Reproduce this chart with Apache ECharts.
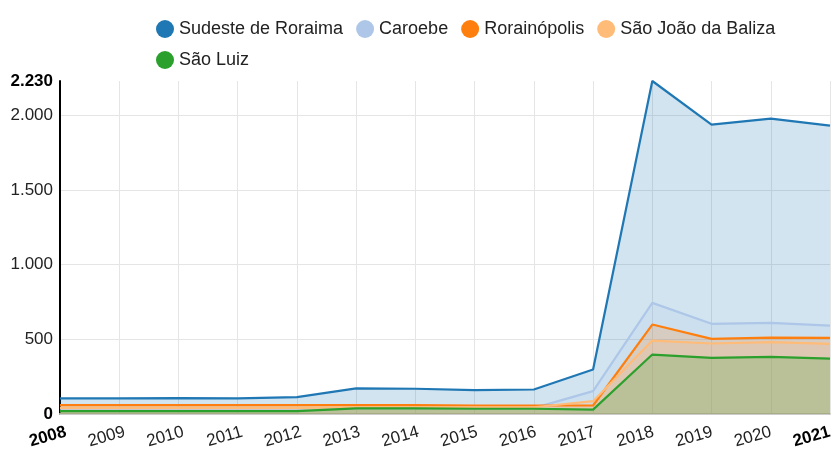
<!DOCTYPE html>
<html>
<head>
<meta charset="utf-8">
<script src="https://cdn.jsdelivr.net/npm/echarts@6/dist/echarts.min.js"></script>
<style>html,body{margin:0;padding:0;background:#fff}#c{width:835px;height:451px}</style>
</head>
<body>
<div id="c"></div>
<script>
const years = ['2008','2009','2010','2011','2012','2013','2014','2015','2016','2017','2018','2019','2020','2021'];
const sudeste = [104,104,106,105,113,172,169,160,164,298,2230,1938,1978,1931];
const caroebe = [38,38,38,38,38,40,40,40,39,153,744,604,610,592];
const rorainopolis = [59,59,59,59,59,60,59,57,57,57,599,503,512,510];
const saoJoao = [41,41,41,41,41,45,45,45,45,86,492,472,481,470];
const saoLuiz = [19,19,19,19,19,38,37,35,35,29,398,376,383,371];
const seriesNames = ['Sudeste de Roraima','Caroebe','Rorainópolis','São João da Baliza','São Luiz'];
const colors = ['#1f77b4','#aec7e8','#ff7f0e','#ffbb78','#2ca02c'];
const yMax = 2230;
const yGridMax = 2000;

const font = '"Liberation Sans", Arial, sans-serif';
function fmt(v){ return String(Math.round(v)).replace(/\B(?=(\d{3})+(?!\d))/g,'.'); }

const allData = [sudeste, caroebe, rorainopolis, saoJoao, saoLuiz];
const G = {left:60, right:5, top:81, bottom:37};
const plotH = 451 - G.top - G.bottom;
const gridTop2 = G.top + plotH * (yMax - yGridMax) / yMax;

const chart = echarts.init(document.getElementById('c'), null, {renderer:'canvas'});
chart.setOption({
  animation:false,
  color: colors,
  textStyle:{fontFamily:font},
  legend:{
    left:151, top:15, width:680,
    icon:'circle', itemWidth:18, itemHeight:18, itemGap:13,
    textStyle:{fontSize:18, color:'#222', fontFamily:font, padding:[0,9,0,0]},
    data: seriesNames
  },
  grid:[
    {left:G.left, right:G.right, top:G.top, bottom:G.bottom},
    {left:G.left+6, right:G.right-6, top:G.top, bottom:G.bottom},
    {left:G.left, right:G.right, top:gridTop2, bottom:G.bottom, z:0}
  ],
  xAxis:[
    {
      gridIndex:0, type:'category', boundaryGap:false, data:years,
      axisLine:{show:true, lineStyle:{color:'#ccc', width:2}},
      axisTick:{show:false},
      splitLine:{show:true, lineStyle:{color:'#e5e5e5', width:1}},
      axisLabel:{show:false}
    },
    {
      gridIndex:1, type:'category', boundaryGap:false, data:years,
      axisLine:{show:false}, axisTick:{show:false}, splitLine:{show:false},
      axisLabel:{
        rotate:16, fontSize:17, color:'#222', margin:18, interval:0,
        formatter:function(v,i){ return (i===0||i===years.length-1) ? '{b|'+v+'}' : v; },
        rich:{b:{fontWeight:'bold', fontSize:17, color:'#000'}}
      }
    },
    {gridIndex:2, type:'category', boundaryGap:false, data:years, show:false}
  ],
  yAxis:[
    {
      gridIndex:0, type:'value', min:0, max:yMax, interval:500,
      axisLine:{show:true, lineStyle:{color:'#000', width:2}},
      axisTick:{show:false},
      splitLine:{show:false},
      axisLabel:{
        fontSize:17, color:'#222', margin:7,
        formatter:function(v){ return (v===0||v===yMax) ? '{b|'+fmt(v)+'}' : fmt(v); },
        rich:{b:{fontWeight:'bold', fontSize:17, color:'#000'}}
      }
    },
    {gridIndex:1, type:'value', min:0, max:yMax, show:false},
    {
      gridIndex:2, type:'value', min:0, max:yGridMax, interval:500,
      axisLine:{show:false}, axisTick:{show:false}, axisLabel:{show:false},
      splitLine:{show:true, lineStyle:{color:'#e5e5e5', width:1}}
    }
  ],
  series: seriesNames.map((n,i)=>({
    name:n, type:'line', data:allData[i], xAxisIndex:0, yAxisIndex:0,
    symbol:'none', showSymbol:false,
    lineStyle:{width:2.2, color:colors[i]},
    areaStyle:{opacity:0.2, color:colors[i]},
    emphasis:{disabled:true}
  }))
});
</script>
</body>
</html>
